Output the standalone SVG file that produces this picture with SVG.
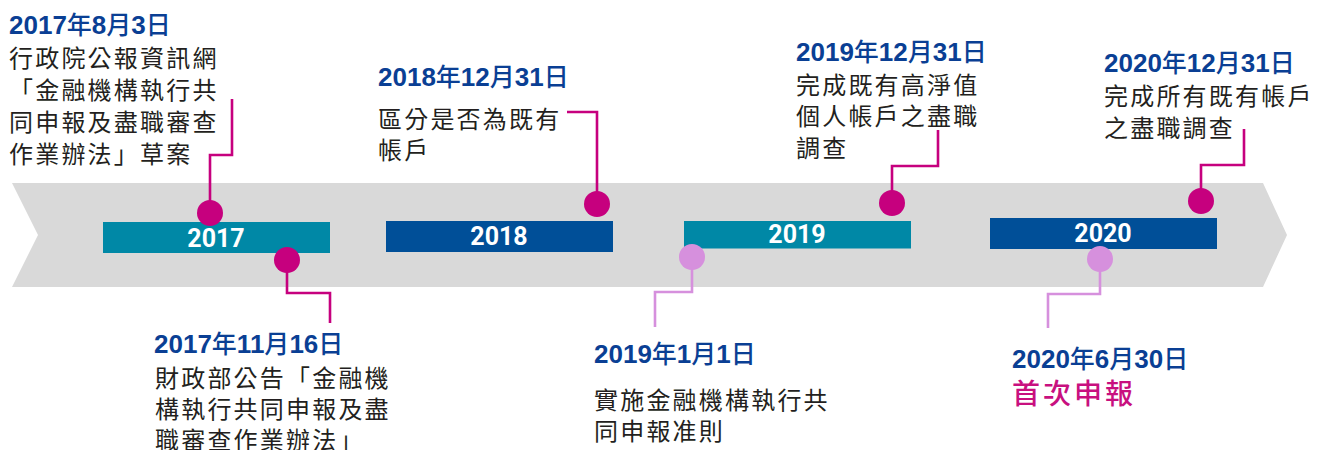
<svg xmlns="http://www.w3.org/2000/svg" width="1317" height="450" viewBox="0 0 1317 450">
<style>
.hd{font-family:"Liberation Sans","Noto Sans CJK TC",sans-serif;font-weight:700;font-size:26px;fill:#0a3f94}
.hd .c{font-family:"Noto Sans CJK TC",sans-serif;font-weight:500;font-size:25px}
.bd{font-family:"Noto Sans CJK TC",sans-serif;font-weight:400;font-size:24px;letter-spacing:2.2px;fill:#231f20}
.yr{font-family:Roboto,"Liberation Sans",sans-serif;font-weight:700;font-size:25px;fill:#ffffff;text-anchor:middle}
.em{font-family:"Noto Sans CJK TC",sans-serif;font-weight:500;font-size:28px;letter-spacing:3px;fill:#c8107f}
.ln{fill:none;stroke-width:2.6}
.mg{stroke:#c6007e}
.lp{stroke:#d690dd}
.dm{fill:#c6007e}
.dl{fill:#d690dd}
.teal{fill:#0088a6}
.navy{fill:#004f98}
</style>
<g id="band">
<polygon points="12,183 1263,183 1287,235 1263,287 12,287 38,235" fill="#d9d9d9"/>
</g>
<g id="bars">
<g id="y2017"><rect class="teal" x="103" y="222" width="227" height="31"/><text class="yr" x="216" y="247">2017</text></g>
<g id="y2018"><rect class="navy" x="386" y="221" width="227" height="31"/><text class="yr" x="499" y="245">2018</text></g>
<g id="y2019"><rect class="teal" x="684" y="221" width="227" height="27.5"/><text class="yr" x="797" y="243">2019</text></g>
<g id="y2020"><rect class="navy" x="990" y="218" width="227" height="31"/><text class="yr" x="1103" y="242">2020</text></g>
</g>
<g id="connectors">
<polyline class="ln mg" points="210,213 210,155 232,155 232,99"/>
<polyline class="ln mg" points="287,260 287,293 330,293 330,323"/>
<polyline class="ln mg" points="597,204 597,112 567,112"/>
<polyline class="ln lp" points="692,257 692,292 655,292 655,327"/>
<polyline class="ln mg" points="892,203 892,166 938,166 938,130"/>
<polyline class="ln lp" points="1100,259 1100,294 1048,294 1048,328"/>
<polyline class="ln mg" points="1201,201 1201,165 1244,165 1244,129"/>
</g>
<g id="dots">
<circle class="dm" cx="210" cy="213" r="13"/>
<circle class="dm" cx="287" cy="260" r="13"/>
<circle class="dm" cx="597" cy="204" r="13"/>
<circle class="dl" cx="692" cy="257" r="13"/>
<circle class="dm" cx="892" cy="203" r="13"/>
<circle class="dl" cx="1100" cy="259" r="13"/>
<circle class="dm" cx="1201" cy="201" r="13"/>
</g>
<g id="n20170803">
<text class="hd" x="9" y="34">2017<tspan class="c">年</tspan>8<tspan class="c">月</tspan>3<tspan class="c">日</tspan></text>
<text class="bd" x="9" y="67">行政院公報資訊網</text>
<text class="bd" x="9" y="99">「金融機構執行共</text>
<text class="bd" x="9" y="131">同申報及盡職審查</text>
<text class="bd" x="9" y="163">作業辦法」草案</text>
</g>
<g id="n20171116">
<text class="hd" x="154" y="353">2017<tspan class="c">年</tspan>11<tspan class="c">月</tspan>16<tspan class="c">日</tspan></text>
<text class="bd" x="155" y="387">財政部公告「金融機</text>
<text class="bd" x="155" y="418">構執行共同申報及盡</text>
<text class="bd" x="155" y="449">職審查作業辦法」</text>
</g>
<g id="n20181231">
<text class="hd" x="378" y="86">2018<tspan class="c">年</tspan>12<tspan class="c">月</tspan>31<tspan class="c">日</tspan></text>
<text class="bd" x="378" y="128">區分是否為既有</text>
<text class="bd" x="378" y="159">帳戶</text>
</g>
<g id="n20190101">
<text class="hd" x="594" y="363">2019<tspan class="c">年</tspan>1<tspan class="c">月</tspan>1<tspan class="c">日</tspan></text>
<text class="bd" x="594" y="409">實施金融機構執行共</text>
<text class="bd" x="594" y="440">同申報准則</text>
</g>
<g id="n20191231">
<text class="hd" x="796" y="61">2019<tspan class="c">年</tspan>12<tspan class="c">月</tspan>31<tspan class="c">日</tspan></text>
<text class="bd" x="796" y="94">完成既有高淨值</text>
<text class="bd" x="796" y="125">個人帳戶之盡職</text>
<text class="bd" x="796" y="157">調查</text>
</g>
<g id="n20200630">
<text class="hd" x="1012" y="368">2020<tspan class="c">年</tspan>6<tspan class="c">月</tspan>30<tspan class="c">日</tspan></text>
<text class="em" x="1012" y="404">首次申報</text>
</g>
<g id="n20201231">
<text class="hd" x="1104" y="72">2020<tspan class="c">年</tspan>12<tspan class="c">月</tspan>31<tspan class="c">日</tspan></text>
<text class="bd" x="1104" y="105">完成所有既有帳戶</text>
<text class="bd" x="1104" y="137">之盡職調查</text>
</g>
</svg>
